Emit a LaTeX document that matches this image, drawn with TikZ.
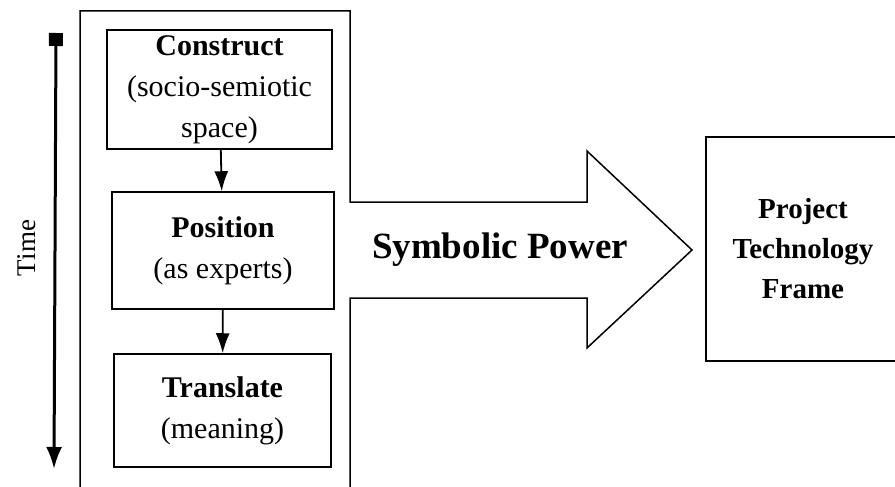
\documentclass[tikz,border=0pt]{standalone}
\usepackage{fontspec}
\setmainfont{Liberation Serif}
\usetikzlibrary{arrows.meta}
\begin{document}
\begin{tikzpicture}[x=1pt,y=-1pt,line width=1.5pt]

        \useasboundingbox (0,0) rectangle (895,487);
        \clip (0,0) rectangle (895,487);

        \begin{scope}[every node/.style={draw,align=center,inner sep=0pt,font=\fontsize{30}{41}\selectfont}]
          \node[minimum width=225pt,minimum height=119pt] (construct) at (219.5,89.5)
            {\textbf{Construct}\\(socio-semiotic\\space)};
          \node[minimum width=222pt,minimum height=117pt] (position) at (223,250.5)
            {\textbf{Position}\\(as experts)};
          \node[minimum width=217pt,minimum height=113pt] (translate) at (222.5,410.5)
            {\textbf{Translate}\\(meaning)};
          \node[minimum width=194pt,minimum height=224pt,font=\bfseries\fontsize{29}{40}\selectfont] (frame) at (803,249)
            {Project\\Technology\\Frame};
        \end{scope}

        \draw (350,202) -- (350,11) -- (80,11) -- (80,495) -- (350,495) -- (350,298)
          -- (587,298) -- (587,348) -- (692,250) -- (587,151) -- (587,202) -- cycle;
        \node[font=\bfseries\fontsize{37}{44}\selectfont] (power) at (500,250) {Symbolic Power};

        \begin{scope}[every path/.style={line width=1.8pt,-{Latex[length=20pt,width=14pt]}}]
          \path[draw] (construct) -- (position);
          \path[draw] (position) -- (translate);
        \end{scope}

        \coordinate (tstart) at (56,33);
        \coordinate (tend) at (54,469);
        \draw[line width=3pt,{Square[length=13pt,width=14pt]}-{Latex[length=22pt,width=16pt]}] (tstart) -- (tend);
        \node[rotate=90,font=\fontsize{27}{32}\selectfont] (time) at (27,248) {Time};

      \end{tikzpicture}
\end{document}
